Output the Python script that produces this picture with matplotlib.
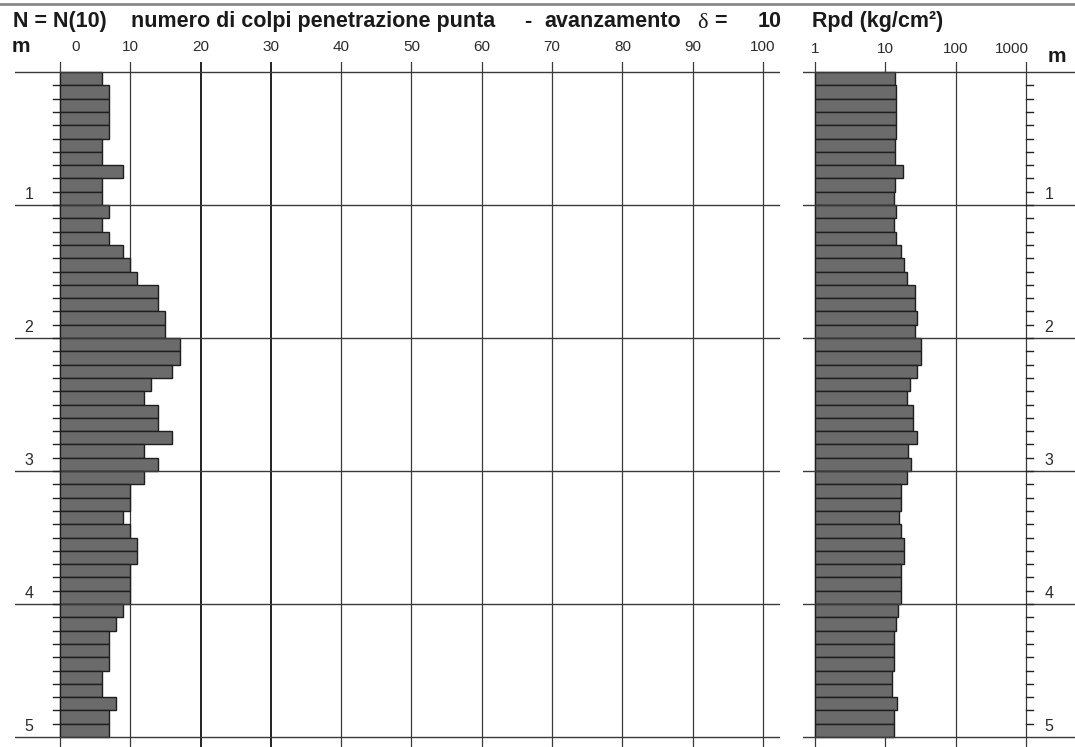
import numpy as np
import matplotlib
matplotlib.use("Agg")
import matplotlib.pyplot as plt

plt.rcParams['font.family'] = ['Liberation Sans', 'DejaVu Sans']

# depth of each reading (top of 10 cm step), m
depth_top = [round(0.1 * i, 1) for i in range(50)]

# N(10) blows per 10 cm
n_blows = [6, 7, 7, 7, 7, 6, 6, 9, 6, 6,
           7, 6, 7, 9, 10, 11, 14, 14, 15, 15,
           17, 17, 16, 13, 12, 14, 14, 16, 12, 14,
           12, 10, 10, 9, 10, 11, 11, 10, 10, 10,
           9, 8, 7, 7, 7, 6, 6, 8, 7, 7]

# Rpd dynamic point resistance, kg/cm2
rpd = [13.8, 14.4, 14.4, 14.4, 14.4, 13.8, 13.8, 17.9, 13.8, 13.4,
       14.4, 13.4, 14.4, 16.8, 18.7, 20.6, 26.2, 26.5, 27.9, 26.2,
       32.1, 32.1, 28.2, 22.2, 20.6, 24.5, 24.5, 27.9, 20.9, 23.2,
       20.4, 16.8, 16.9, 15.7, 16.6, 18.7, 18.7, 16.9, 16.9, 16.8,
       15.4, 14.4, 13.4, 13.4, 13.4, 12.4, 12.4, 14.6, 13.4, 13.1]

n_ticks = [0, 10, 20, 30, 40, 50, 60, 70, 80, 90, 100]
rpd_ticks = [1, 10, 100, 1000]
depth_labels = [1, 2, 3, 4, 5]

W, H = 1075, 747
fig = plt.figure(figsize=(W / 100, H / 100), dpi=100)

# pixel geometry of the reference
y_top_px, y_bot_px = 62, 747
d0_px, px_per_m = 72, 133.0
d_min = (y_top_px - d0_px) / px_per_m
d_max = (y_bot_px - d0_px) / px_per_m

bar_fill = '#6b6b6b'
bar_edge = '#1e1e1e'
line_c = '#3a3a3a'
txt_c = '#2b2b2b'
head_c = '#1a1a1a'

# ---------- left panel: N(10) ----------
x0_px, px_per_n = 60, 7.03
lx0, lx1 = 15, 780
ax1 = fig.add_axes([lx0 / W, 1 - y_bot_px / H, (lx1 - lx0) / W, (y_bot_px - y_top_px) / H])
ax1.set_xlim((lx0 - x0_px) / px_per_n, (lx1 - x0_px) / px_per_n)
ax1.set_ylim(d_max, d_min)
ax1.axis('off')

for v in n_ticks:
    dark = v in (20, 30)
    ax1.axvline(v, color='#111111' if dark else line_c, lw=1.3 if dark else 0.9, zorder=1)
for d in range(6):
    ax1.axhline(d, color=line_c, lw=1.0, zorder=3)

ax1.barh(np.array(depth_top) + 0.05, n_blows, height=0.1, left=0,
         color=bar_fill, edgecolor=bar_edge, lw=1.0, zorder=2)

for i in range(1, 50):
    d = i * 0.1
    ax1.plot([-1.0, 0], [d, d], color='#222222', lw=1.0, zorder=3, clip_on=False)

lab_d = (47 - d0_px) / px_per_m
for v in n_ticks:
    xl = v if v else 2.2
    ax1.text(xl, lab_d, str(v), ha='center', va='center', fontsize=11,
             color=txt_c, clip_on=False)
for d in depth_labels:
    ax1.text((29 - x0_px) / px_per_n, d - 0.02, str(d), ha='center', va='bottom',
             fontsize=11.5, color=txt_c)

# ---------- right panel: Rpd (log) ----------
x1_px, px_per_dec = 815, 70.3
rx0, rx1 = 803, 1075
ax2 = fig.add_axes([rx0 / W, 1 - y_bot_px / H, (rx1 - rx0) / W, (y_bot_px - y_top_px) / H])
ax2.set_xscale('log')
ax2.set_xlim(10 ** ((rx0 - x1_px) / px_per_dec), 10 ** ((rx1 - x1_px) / px_per_dec))
ax2.set_ylim(d_max, d_min)
ax2.axis('off')

for v in (1, 100, 1000):
    ax2.axvline(v, color=line_c, lw=0.9, zorder=1)
ax2.plot([10, 10], [d_min, 0], color=line_c, lw=0.9)
ax2.plot([10, 10], [5, d_max], color=line_c, lw=0.9)
for d in range(6):
    ax2.axhline(d, color=line_c, lw=1.0, zorder=3)

ax2.barh(np.array(depth_top) + 0.05, np.array(rpd) - 1, height=0.1, left=1,
         color=bar_fill, edgecolor=bar_edge, lw=1.0, zorder=2)

tick_end = 10 ** (3 + 7 / px_per_dec)
for i in range(1, 50):
    d = i * 0.1
    ax2.plot([1000, tick_end], [d, d], color='#222222', lw=1.0, zorder=3)

for v in rpd_ticks:
    xl = v if v < 1000 else 10 ** ((1012 - x1_px) / px_per_dec)
    ax2.text(xl, (49 - d0_px) / px_per_m, str(v), ha='center', va='center',
             fontsize=11, color=txt_c, clip_on=False)
for d in depth_labels:
    ax2.text(10 ** ((1049 - x1_px) / px_per_dec), d - 0.02, str(d), ha='center',
             va='bottom', fontsize=11.5, color=txt_c)

# ---------- headings ----------
def fx(px):
    return px / W

def fy(px):
    return 1 - px / H

def head(px, s, **kw):
    opts = dict(fontsize=15.5, fontweight='bold', color=head_c, va='baseline')
    opts.update(kw)
    fig.text(fx(px), fy(27), s, **opts)

fig.add_artist(plt.Line2D([0, 1], [fy(4), fy(4)], color='#8a8a8a', lw=2.0))
head(13, 'N = N(10)')
head(131, 'numero di colpi penetrazione punta')
head(524, '-')
head(544, 'avanzamento')
fig.text(fx(697), fy(28), 'δ', fontsize=16, family=['Liberation Serif', 'DejaVu Serif'],
         color=head_c, va='baseline')
head(714, '=')
head(782, '10', ha='right')
head(812, 'Rpd (kg/cm²)')
fig.text(fx(12), fy(52), 'm', fontsize=15, fontweight='bold', color=head_c, va='baseline')
fig.text(fx(1048), fy(62), 'm', fontsize=15, fontweight='bold', color=head_c, va='baseline')

fig.savefig('out.png', dpi=100, facecolor='white')
